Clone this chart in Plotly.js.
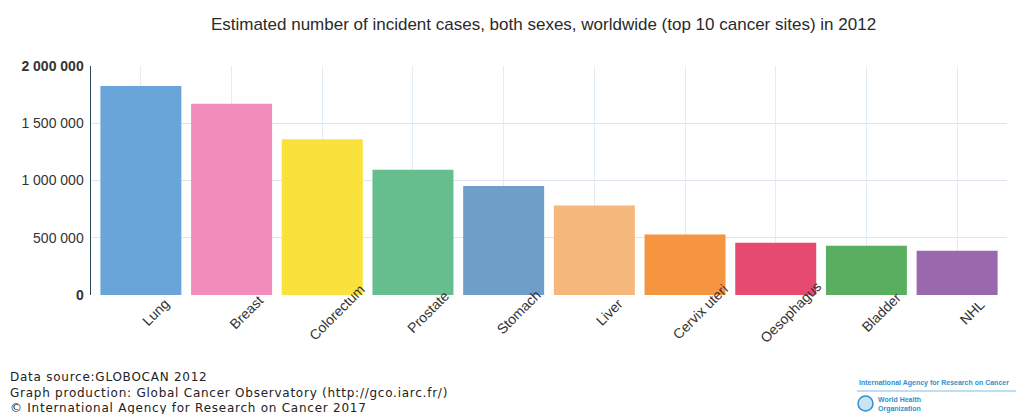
<!DOCTYPE html>
<html>
<head>
<meta charset="utf-8">
<script src="https://cdn.plot.ly/plotly-3.0.1.min.js"></script>
<style>
  html, body { margin: 0; padding: 0; background: #ffffff; }
  #chart { width: 1019px; height: 414px; }
</style>
</head>
<body>
<div id="chart"></div>
<script>
// Top 10 cancer sites, estimated incident cases (both sexes, worldwide, 2012)
const sites = ["Lung", "Breast", "Colorectum", "Prostate", "Stomach",
               "Liver", "Cervix uteri", "Oesophagus", "Bladder", "NHL"];
const cases = [1824701, 1671149, 1360602, 1094916, 951594,
               782451, 527624, 455784, 429793, 385741];
const siteColors = ["#6aa5d9", "#f28cba", "#fbe13c", "#66bd8e", "#6f9fc9",
                    "#f6b87a", "#f6953f", "#e64a6f", "#5aae5f", "#9a68ad"];
const tickValues = [0, 500000, 1000000, 1500000, 2000000];
const tickLabels = ["<b>0</b>", "500 000", "1 000 000", "1 500 000", "<b>2 000 000</b>"];
const footerLines = [
  "Data source:GLOBOCAN 2012",
  "Graph production: Global Cancer Observatory (http://gco.iarc.fr/)",
  "\u00a9 International Agency for Research on Cancer 2017"
];

const W = 1019, H = 414;
const M = { l: 91, r: 12, t: 66, b: 119 };
// pixel position -> paper fraction
const pxX = (x) => (x - M.l) / (W - M.l - M.r);
const pxY = (y) => (H - M.b - y) / (H - M.t - M.b);

const trace = {
  type: "bar",
  x: sites.map((s, i) => i),
  y: cases,
  marker: { color: siteColors, line: { width: 0 } },
  hoverinfo: "x+y"
};

// Rotated category labels, centred a little right of each bar
const labelAnnotations = sites.map((s, i) => ({
  x: i, y: 0, xref: "x", yref: "y",
  text: s, showarrow: false, textangle: -45,
  xanchor: "center", yanchor: "middle",
  xshift: 15, yshift: -17,
  font: { family: "Liberation Sans, Arial, sans-serif", size: 14, color: "#333" }
}));

// Footer credits, one block of three lines
const footerAnnotation = {
  x: pxX(8), y: pxY(392), xref: "paper", yref: "paper",
  text: footerLines.join("<br>"), showarrow: false,
  xanchor: "left", yanchor: "middle", align: "left",
  font: { family: "DejaVu Sans, sans-serif", size: 12, color: "#222" }
};

// Agency mark in the bottom-right corner
const markAnnotations = [
  {
    x: pxX(857), y: pxY(383), xref: "paper", yref: "paper",
    text: "<b>International Agency for Research on Cancer</b>", showarrow: false,
    xanchor: "left", yanchor: "middle",
    font: { family: "Liberation Sans, Arial, sans-serif", size: 7, color: "#2f8fd0" }
  },
  {
    x: pxX(876), y: pxY(404), xref: "paper", yref: "paper",
    text: "<b>World Health<br>Organization</b>", showarrow: false,
    xanchor: "left", yanchor: "middle", align: "left",
    font: { family: "Liberation Sans, Arial, sans-serif", size: 7, color: "#2f8fd0" }
  }
];
const markShapes = [
  { type: "line", xref: "paper", yref: "paper",
    x0: pxX(857), x1: pxX(1016), y0: pxY(391), y1: pxY(391),
    line: { color: "#7fbde6", width: 1 } },
  { type: "circle", xref: "paper", yref: "paper",
    x0: pxX(858), x1: pxX(873), y0: pxY(396), y1: pxY(411),
    line: { color: "#2f8fd0", width: 1.5 }, fillcolor: "rgba(47,143,208,0.25)" }
];

const layout = {
  width: W, height: H,
  margin: M,
  paper_bgcolor: "#ffffff", plot_bgcolor: "#ffffff",
  title: {
    text: "Estimated number of incident cases, both sexes, worldwide (top 10 cancer sites) in 2012",
    x: 543.5 / W, xanchor: "center", y: 1 - 24 / H, yanchor: "middle",
    font: { family: "Liberation Sans, Arial, sans-serif", size: 17, color: "#2a2a2a" }
  },
  bargap: 0.107,
  showlegend: false,
  xaxis: {
    range: [-0.55, 9.55],
    tickvals: sites.map((s, i) => i),
    showticklabels: false,
    showgrid: true, gridcolor: "#e3edf5", gridwidth: 1,
    zeroline: false, showline: false, ticks: ""
  },
  yaxis: {
    range: [0, 2000000],
    tickvals: tickValues, ticktext: tickLabels,
    tickfont: { family: "Liberation Sans, Arial, sans-serif", size: 14, color: "#333" },
    showgrid: true, gridcolor: "#dde6ee", gridwidth: 1,
    zeroline: false, showline: true, linecolor: "#2b4a57", linewidth: 1.5,
    ticks: "", ticklabelstandoff: 3
  },
  annotations: labelAnnotations.concat([footerAnnotation], markAnnotations),
  shapes: markShapes
};

Plotly.newPlot("chart", [trace], layout, { staticPlot: true }).then(gd => {
  // Widen the credit lines slightly with letter spacing
  const idx = labelAnnotations.length;
  const t = gd.querySelector('g.annotation[data-index="' + idx + '"] text');
  if (t) t.style.letterSpacing = "0.75px";
});
</script>
</body>
</html>
